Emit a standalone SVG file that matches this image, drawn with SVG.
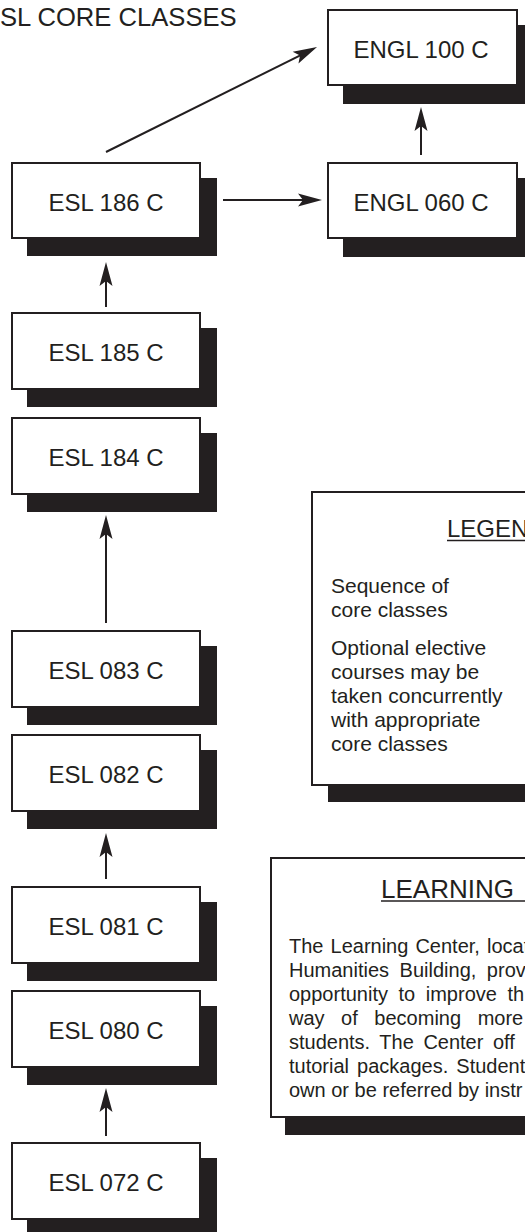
<svg xmlns="http://www.w3.org/2000/svg" width="525" height="1232" viewBox="0 0 525 1232">
<style>
.box{fill:#fff;stroke:#231f20;stroke-width:2}
.sh{fill:#231f20}
.t{font-family:"Liberation Sans",Arial,sans-serif;fill:#231f20}
.lbl{font-size:24px;text-anchor:middle}
.leg{font-size:21px}
.body{font-size:20px}
.ln{stroke:#231f20;stroke-width:2;fill:none}
.ul{stroke:#231f20;stroke-width:1.5}
</style>
<defs>
<marker id="ah" markerUnits="userSpaceOnUse" viewBox="-13 -7 14 14" refX="0" refY="0" markerWidth="14" markerHeight="14" orient="auto" overflow="visible">
<path d="M12,0 L-12,-6.5 L-7,0 L-12,6.5 Z" fill="#231f20"/>
</marker>
</defs>
<rect width="525" height="1232" fill="#fff"/>
<text class="t" x="0" y="26" font-size="25.6">SL CORE CLASSES</text>

<g id="engl100"><rect class="sh" x="343" y="25" width="190" height="79"/><rect class="box" x="328" y="10" width="189" height="75"/><text class="t lbl" x="421" y="57.5">ENGL 100 C</text></g>
<g id="engl060"><rect class="sh" x="343" y="178" width="190" height="79"/><rect class="box" x="328" y="163" width="189" height="75"/><text class="t lbl" x="421" y="210.5">ENGL 060 C</text></g>
<g id="esl186"><rect class="sh" x="27" y="178" width="190" height="78"/><rect class="box" x="12" y="163" width="188" height="75"/><text class="t lbl" x="106" y="210.5">ESL 186 C</text></g>
<g id="esl185"><rect class="sh" x="27" y="328" width="190" height="79"/><rect class="box" x="12" y="313" width="188" height="76"/><text class="t lbl" x="106" y="360.5">ESL 185 C</text></g>
<g id="esl184"><rect class="sh" x="27" y="433" width="190" height="79"/><rect class="box" x="12" y="418" width="188" height="76"/><text class="t lbl" x="106" y="465.5">ESL 184 C</text></g>
<g id="esl083"><rect class="sh" x="27" y="646" width="190" height="79"/><rect class="box" x="12" y="631" width="188" height="76"/><text class="t lbl" x="106" y="678.5">ESL 083 C</text></g>
<g id="esl082"><rect class="sh" x="27" y="750" width="190" height="79"/><rect class="box" x="12" y="735" width="188" height="76"/><text class="t lbl" x="106" y="782.5">ESL 082 C</text></g>
<g id="esl081"><rect class="sh" x="27" y="902" width="190" height="79"/><rect class="box" x="12" y="887" width="188" height="76"/><text class="t lbl" x="106" y="934.5">ESL 081 C</text></g>
<g id="esl080"><rect class="sh" x="27" y="1006" width="190" height="79"/><rect class="box" x="12" y="991" width="188" height="76"/><text class="t lbl" x="106" y="1038.5">ESL 080 C</text></g>
<g id="esl072"><rect class="sh" x="27" y="1158" width="190" height="79"/><rect class="box" x="12" y="1143" width="188" height="76"/><text class="t lbl" x="106" y="1190.5">ESL 072 C</text></g>

<g id="legend">
<rect class="sh" x="328" y="508" width="220" height="294"/>
<rect class="box" x="312" y="492" width="230" height="293"/>
<text class="t" x="447" y="537" font-size="24">LEGEN</text>
<line class="ul" x1="447" y1="540.5" x2="525" y2="540.5"/>
<text class="t leg" x="331" y="593">Sequence of</text>
<text class="t leg" x="331" y="617">core classes</text>
<text class="t leg" x="331" y="655">Optional elective</text>
<text class="t leg" x="331" y="679">courses may be</text>
<text class="t leg" x="331" y="703">taken concurrently</text>
<text class="t leg" x="331" y="727">with appropriate</text>
<text class="t leg" x="331" y="751">core classes</text>
</g>

<g id="learning">
<rect class="sh" x="285" y="874" width="260" height="261"/>
<rect class="box" x="271" y="858" width="270" height="259"/>
<text class="t" x="381" y="898" font-size="26">LEARNING</text>
<line class="ul" x1="381" y1="901" x2="525" y2="901"/>
<text class="t body" x="289" y="953" word-spacing="1.5">The Learning Center, locat</text>
<text class="t body" x="289" y="977" word-spacing="5">Humanities Building, prov</text>
<text class="t body" x="289" y="1001" word-spacing="5">opportunity to improve th</text>
<text class="t body" x="289" y="1025" word-spacing="11">way of becoming more</text>
<text class="t body" x="289" y="1049" word-spacing="4">students. The Center off</text>
<text class="t body" x="289" y="1073" word-spacing="2.5">tutorial packages. Student</text>
<text class="t body" x="289" y="1097">own or be referred by instr</text>
</g>

<g id="connectors">
<path class="ln" d="M106,152 L306.3,52.3" marker-end="url(#ah)"/>
<path class="ln" d="M223,200 L310,200" marker-end="url(#ah)"/>
<path class="ln" d="M421,155 L421,119" marker-end="url(#ah)"/>
<path class="ln" d="M106,307 L106,274" marker-end="url(#ah)"/>
<path class="ln" d="M106,623 L106,527" marker-end="url(#ah)"/>
<path class="ln" d="M106,879 L106,845" marker-end="url(#ah)"/>
<path class="ln" d="M106,1136 L106,1100" marker-end="url(#ah)"/>
</g>
</svg>
